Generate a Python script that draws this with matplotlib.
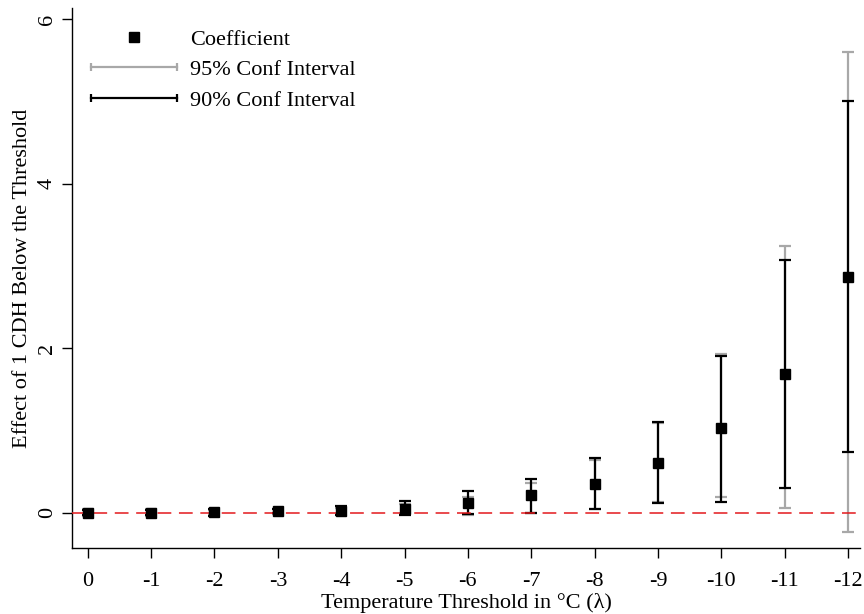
import matplotlib
matplotlib.use("Agg")
import matplotlib.pyplot as plt
from matplotlib.lines import Line2D
from matplotlib.legend_handler import HandlerLine2D
import numpy as np

# threshold steps (0 .. -12 degC)
thresholds = list(range(0, 13))
tick_labels = ["0"] + ["-%d" % t for t in range(1, 13)]

coef = [0.00, 0.00, 0.005, 0.02, 0.02, 0.05, 0.12, 0.22, 0.35, 0.61, 1.03, 1.69, 2.87]

ci90_lo = [-0.03, -0.03, -0.04, -0.01, -0.03, -0.03, -0.02, 0.00, 0.04, 0.12, 0.13, 0.30, 0.74]
ci90_hi = [0.03, 0.03, 0.04, 0.05, 0.08, 0.14, 0.26, 0.41, 0.67, 1.10, 1.91, 3.07, 5.01]

ci95_lo = [-0.04, -0.04, -0.03, -0.02, -0.02, -0.02, -0.03, -0.01, 0.05, 0.13, 0.19, 0.06, -0.24]
ci95_hi = [0.04, 0.04, 0.03, 0.04, 0.06, 0.11, 0.19, 0.36, 0.64, 1.09, 1.93, 3.24, 5.60]

plt.rcParams["font.family"] = ["Liberation Serif", "DejaVu Serif"]
plt.rcParams["font.size"] = 16

fig = plt.figure(figsize=(8.64, 6.14), dpi=100)
ax = fig.add_axes([0.0833, 0.1075, 0.912, 0.8795])

x = np.array(thresholds)
gray = "#a8a8a8"
cap = 9

ax.vlines(x, ci95_lo, ci95_hi, color=gray, lw=1.6, zorder=2)
ax.plot(x, ci95_lo, ls="none", marker="_", ms=cap, mew=1.6, color=gray, zorder=2)
ax.plot(x, ci95_hi, ls="none", marker="_", ms=cap, mew=1.6, color=gray, zorder=2)

ax.vlines(x, ci90_lo, ci90_hi, color="black", lw=1.6, zorder=3)
ax.plot(x, ci90_lo, ls="none", marker="_", ms=cap, mew=1.6, color="black", zorder=3)
ax.plot(x, ci90_hi, ls="none", marker="_", ms=cap, mew=1.6, color="black", zorder=3)

ax.axhline(0, color="#e3191c", lw=1.1, dashes=(9, 5), zorder=3.5)

ax.plot(x, coef, ls="none", marker="s", ms=7, color="black", zorder=4)

ax.set_xlim(-0.25, 12.19)
ax.set_ylim(-0.43, 6.14)
ax.set_xticks(x)
ax.set_xticklabels(tick_labels)
ax.set_yticks([0, 2, 4, 6])
ax.set_yticklabels(["0", "2", "4", "6"], rotation=90, va="center")

ax.spines["top"].set_visible(False)
ax.spines["right"].set_visible(False)
for s in ("left", "bottom"):
    ax.spines[s].set_linewidth(1.0)
ax.tick_params(direction="out", length=7, width=1.0, pad=4, labelsize=16)
ax.tick_params(axis="x", pad=10)

ax.set_xlabel("Temperature Threshold in °C (λ)", fontsize=16, labelpad=2)
ax.set_ylabel("Effect of 1 CDH Below the Threshold", fontsize=16, labelpad=4)

h_coef = Line2D([], [], ls="none", marker="s", ms=7, color="black")
h_95 = Line2D([], [], color=gray, lw=1.6, marker="|", ms=6, mew=1.6)
h_90 = Line2D([], [], color="black", lw=1.6, marker="|", ms=6, mew=1.6)
leg = ax.legend([h_coef, h_95, h_90],
                ["Coefficient", "95% Conf Interval", "90% Conf Interval"],
                handler_map={h_coef: HandlerLine2D(numpoints=1)},
                numpoints=2, frameon=False, loc="upper left",
                bbox_to_anchor=(84 / 864, 1 - 29 / 614),
                bbox_transform=fig.transFigure,
                borderpad=0, borderaxespad=0, handlelength=4.47,
                handletextpad=0.3, labelspacing=0.45, fontsize=16)

fig.savefig("out.png", dpi=100)
